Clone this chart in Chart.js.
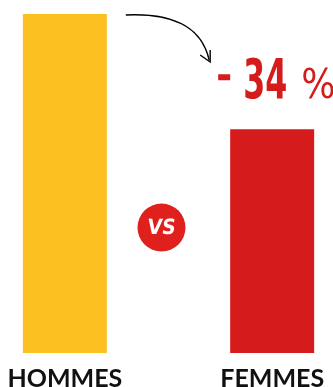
<!DOCTYPE html>
<html>
<head>
<meta charset="utf-8">
<script src="https://cdn.jsdelivr.net/npm/chart.js@4"></script>
<style>
  html, body { margin: 0; padding: 0; background: #fff; }
  #wrap { width: 333px; height: 387px; }
</style>
</head>
<body>
<div id="wrap"><canvas id="chart"></canvas></div>
<script>
const categories = ["HOMMES", "", "FEMMES"];
const values = [100, null, 66];
const barColors = ["#fcc121", "#ffffff", "#d51b1b"];

// annotations: arrow, "- 34 %" and the VS badge
const extras = {
    id: "extras",
    afterDraw(chart) {
        const ctx = chart.ctx;
        const x = chart.scales.x;
        const y = chart.scales.y;
        const hx = x.getPixelForValue(0);
        const fx = x.getPixelForValue(2);
        const midx = x.getPixelForValue(1);
        const top = y.getPixelForValue(values[0]);
        const ftop = y.getPixelForValue(values[2]);

        // curved arrow
        ctx.save();
        ctx.strokeStyle = "#000";
        ctx.lineWidth = 1.4;
        const sx = hx + 61, sy = top + 1;
        const ex = fx - 63, ey = top + 46;
        ctx.beginPath();
        ctx.moveTo(sx, sy);
        ctx.bezierCurveTo(sx + 45, sy - 2, ex - 8, ey - 35, ex, ey);
        ctx.stroke();
        ctx.beginPath();
        ctx.moveTo(ex - 9, ey - 5);
        ctx.lineTo(ex + 1, ey + 2);
        ctx.lineTo(ex + 1, ey - 10);
        ctx.stroke();
        ctx.restore();

        // percentage
        const pct = Math.round((values[2] - values[0]) / values[0] * 100);
        const num = String(Math.abs(pct));
        ctx.save();
        ctx.fillStyle = "#d51b1b";
        ctx.textBaseline = "alphabetic";
        const base = ftop - 31;
        ctx.font = "bold 56px 'Liberation Sans Narrow', 'DejaVu Sans Condensed', sans-serif";
        const k = 44 / ctx.measureText(num).width;
        ctx.save();
        ctx.translate(fx - 29, base);
        ctx.scale(k, 1);
        ctx.fillText(num, 0, 0);
        ctx.restore();
        ctx.fillRect(fx - 54, base - 24, 12, 6);
        ctx.font = "40px 'Liberation Sans Narrow', 'DejaVu Sans Condensed', sans-serif";
        ctx.fillText("%", fx + 29, base);
        ctx.restore();

        // VS badge
        ctx.save();
        const cx = midx - 7, cy = y.getPixelForValue(37);
        ctx.fillStyle = "#e0201c";
        ctx.beginPath();
        ctx.arc(cx, cy, 24, 0, Math.PI * 2);
        ctx.fill();
        ctx.fillStyle = "#fff";
        ctx.font = "bold 21px 'DejaVu Sans Condensed', sans-serif";
        ctx.textAlign = "center";
        ctx.textBaseline = "middle";
        ctx.save();
        ctx.translate(cx, cy + 1);
        ctx.transform(1, 0, -0.12, 1, 0, 0);
        ctx.fillText("VS", 0, 0);
        ctx.restore();
        ctx.restore();
    }
};

new Chart(document.getElementById("chart"), {
    type: "bar",
    data: {
        labels: categories,
        datasets: [{
            data: values,
            backgroundColor: barColors,
            barPercentage: 0.81,
            categoryPercentage: 1
        }]
    },
    options: {
        responsive: true,
        maintainAspectRatio: false,
        animation: false,
        layout: { padding: { top: 14, left: 13, right: 9, bottom: 0 } },
        plugins: { legend: { display: false }, tooltip: { enabled: false } },
        scales: {
            y: { display: false, min: 0, max: 100 },
            x: {
                afterFit(scale) {
                    scale.height = 34;
                    scale.paddingLeft = 0;
                    scale.paddingRight = 0;
                },
                grid: { display: false },
                border: { display: false },
                ticks: {
                    color: "#111",
                    padding: 3,
                    maxRotation: 0,
                    minRotation: 0,
                    autoSkip: false,
                    font: { family: "Lato, sans-serif", size: 25, weight: "bold" }
                }
            }
        }
    },
    plugins: [extras]
});
</script>
</body>
</html>
